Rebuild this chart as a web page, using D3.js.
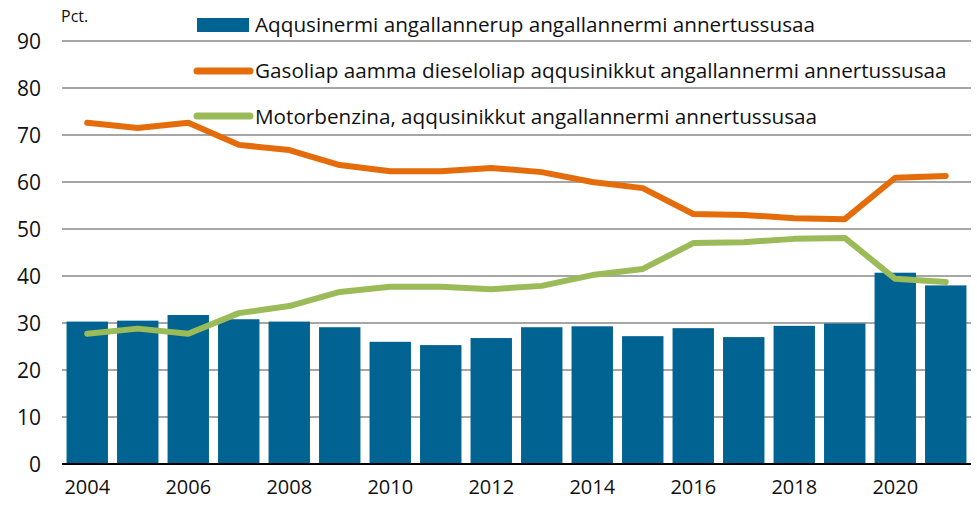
<!DOCTYPE html>
<html>
<head>
<meta charset="utf-8">
<script src="https://cdn.jsdelivr.net/npm/d3@7"></script>
<style>
  body { margin: 0; background: #fff; }
  svg text { font-family: "Open Sans", "Noto Sans", sans-serif; fill: #111; }
</style>
</head>
<body>
<svg id="chart" width="977" height="506"></svg>
<script>
// data
const years = [2004, 2005, 2006, 2007, 2008, 2009, 2010, 2011, 2012, 2013, 2014, 2015, 2016, 2017, 2018, 2019, 2020, 2021]
const roadShare = [30.3, 30.5, 31.7, 30.8, 30.3, 29.1, 26.0, 25.3, 26.8, 29.1, 29.3, 27.2, 28.9, 27.0, 29.4, 29.9, 40.7, 38.0]
const dieselShare = [72.6, 71.5, 72.6, 67.9, 66.8, 63.6, 62.3, 62.3, 63.0, 62.1, 60.0, 58.7, 53.2, 53.0, 52.3, 52.1, 60.9, 61.3]
const petrolShare = [27.7, 28.8, 27.7, 32.1, 33.6, 36.6, 37.7, 37.7, 37.2, 37.9, 40.2, 41.5, 47.0, 47.2, 47.9, 48.1, 39.4, 38.7]
const yTicks = [0, 10, 20, 30, 40, 50, 60, 70, 80, 90]
const xLabels = [2004, 2006, 2008, 2010, 2012, 2014, 2016, 2018, 2020]
const legendNames = [
    "Aqqusinermi angallannerup angallannermi annertussusaa",
    "Gasoliap aamma dieseloliap aqqusinikkut angallannermi annertussusaa",
    "Motorbenzina, aqqusinikkut angallannermi annertussusaa"
]

const colors = { bar: "#006392", diesel: "#e46c0a", petrol: "#9bbb59", grid: "#a6a6a6" }
const margin = { left: 62, right: 6, top: 41, bottom: 42 }
const W = 977, H = 506

const svg = d3.select("#chart")

const x = d3.scaleBand().domain(years)
    .range([margin.left, W - margin.right])
    .paddingInner(0.18).paddingOuter(0.09)
const y = d3.scaleLinear().domain([0, 90]).range([H - margin.bottom, margin.top])

// gridlines
svg.append("g").selectAll("line").data(yTicks.filter(d => d > 0)).join("line")
    .attr("x1", margin.left).attr("x2", W - margin.right)
    .attr("y1", d => y(d)).attr("y2", d => y(d))
    .attr("stroke", colors.grid).attr("stroke-width", 2)

// y labels
svg.append("g").selectAll("text").data(yTicks).join("text")
    .attr("x", 41).attr("y", d => y(d) + 7.5)
    .attr("text-anchor", "end").attr("font-size", "21px")
    .text(d => d)

svg.append("text").text("Pct.")
    .attr("x", 61).attr("y", 22).attr("font-size", "16px")

// bars
svg.append("g").selectAll("rect").data(years).join("rect")
    .attr("x", d => x(d)).attr("width", x.bandwidth())
    .attr("y", (d, i) => y(roadShare[i]))
    .attr("height", (d, i) => y(0) - y(roadShare[i]))
    .attr("fill", colors.bar)

// baseline
svg.append("line")
    .attr("x1", margin.left).attr("x2", W - margin.right)
    .attr("y1", y(0)).attr("y2", y(0))
    .attr("stroke", "#000").attr("stroke-width", 2)

// lines
const line = d3.line()
    .x((d, i) => x(years[i]) + x.bandwidth() / 2)
    .y(d => y(d))

;[[dieselShare, colors.diesel], [petrolShare, colors.petrol]].forEach(([vals, col]) => {
    svg.append("path").datum(vals)
        .attr("d", line)
        .attr("fill", "none").attr("stroke", col)
        .attr("stroke-width", 6)
        .attr("stroke-linecap", "round").attr("stroke-linejoin", "round")
})

// x labels
svg.append("g").selectAll("text").data(xLabels).join("text")
    .attr("x", d => x(d) + x.bandwidth() / 2).attr("y", 494)
    .attr("text-anchor", "middle").attr("font-size", "20px")
    .text(d => d)

// legend
const legend = svg.append("g")
legend.append("rect").attr("x", 197).attr("y", 18).attr("width", 52).attr("height", 14).attr("fill", colors.bar)
legend.append("line").attr("x1", 197).attr("x2", 250).attr("y1", 71).attr("y2", 71)
    .attr("stroke", colors.diesel).attr("stroke-width", 7).attr("stroke-linecap", "round")
legend.append("line").attr("x1", 197).attr("x2", 250).attr("y1", 116).attr("y2", 116)
    .attr("stroke", colors.petrol).attr("stroke-width", 7).attr("stroke-linecap", "round")

legend.selectAll("text").data(legendNames).join("text")
    .attr("x", 255).attr("y", (d, i) => 31.5 + i * 46)
    .attr("font-size", "20.7px")
    .text(d => d)
</script>
</body>
</html>
